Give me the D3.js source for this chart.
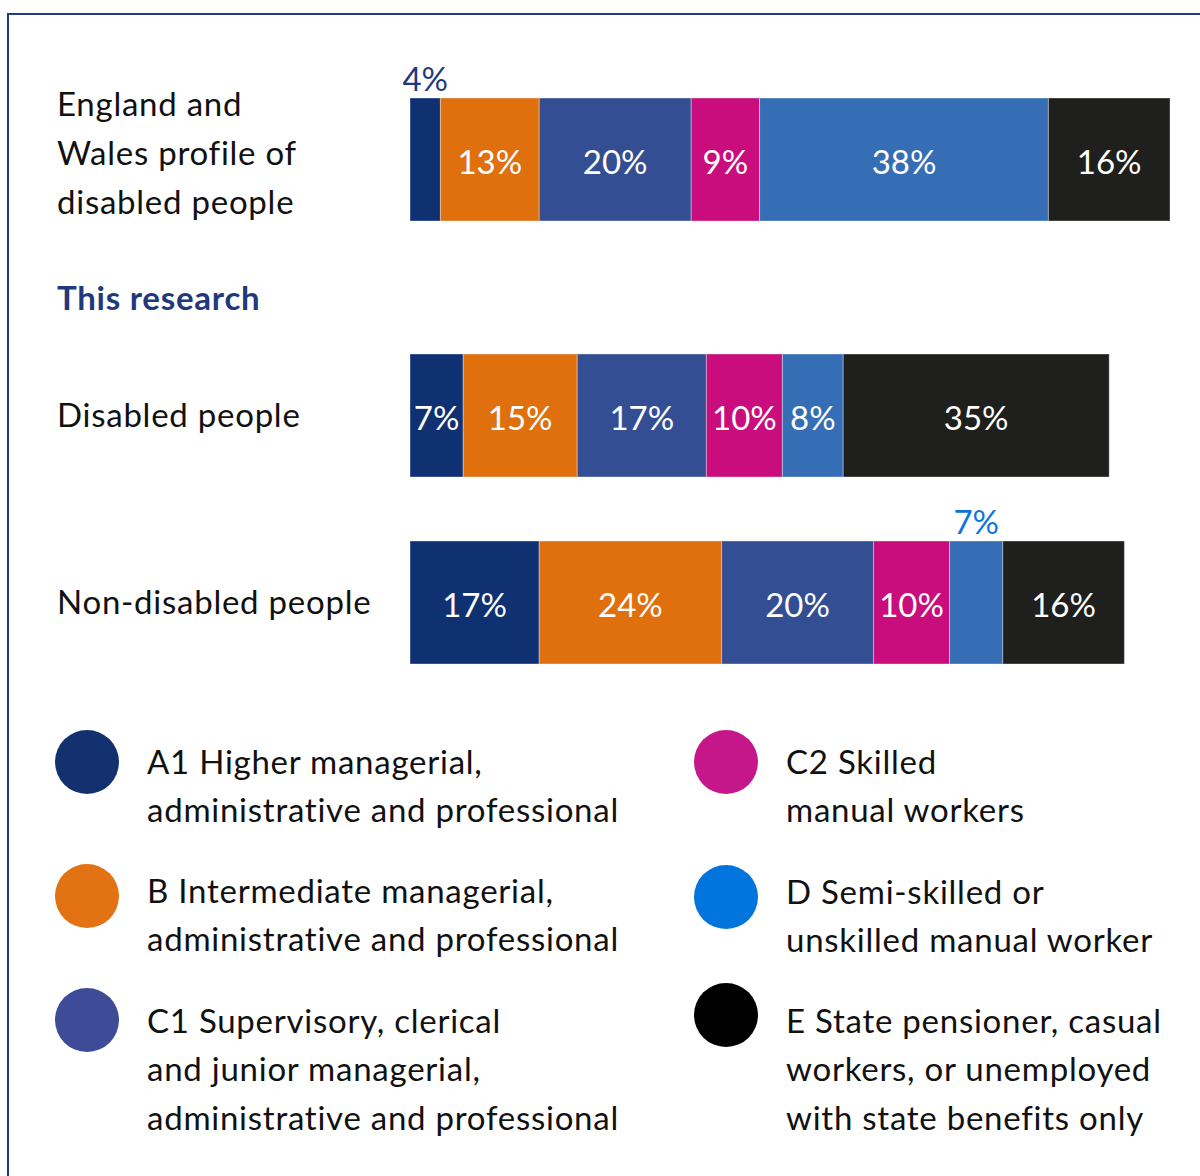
<!DOCTYPE html>
<html>
<head>
<meta charset="utf-8">
<script src="https://cdn.jsdelivr.net/npm/d3@7"></script>
<style>
  html, body { margin: 0; padding: 0; background: #fff; }
  svg { display: block; font-family: Lato, "Open Sans", sans-serif; font-variant-ligatures: none; }
</style>
</head>
<body>
<svg id="chart" width="1200" height="1176"></svg>
<script>
// Socio-economic grade profiles (percent of each group)
const grades = ["A1", "B", "C1", "C2", "D", "E"];
const rows = ["England and Wales profile of disabled people", "Disabled people", "Non-disabled people"];
const rowLabelLines = [
  ["England and", "Wales profile of", "disabled people"],
  ["Disabled people"],
  ["Non-disabled people"]
];
const englandWales = [4, 13, 20, 9, 38, 16];
const disabled = [7, 15, 17, 10, 8, 35];
const nonDisabled = [17, 24, 20, 10, 7, 16];
const rowValues = [englandWales, disabled, nonDisabled];

// Segments too narrow for an inside label: [row index, grade]
const outsideLabels = [[0, "A1"], [2, "D"]];

const barColors = ["#0f3172", "#e0700e", "#344e94", "#c90d7d", "#356eb4", "#1f1f1d"];
const legendColors = ["#14316f", "#e27213", "#3e4b96", "#c5168a", "#0274de", "#000000"];
const outsideLabelColors = { A1: "#1f3a7c", D: "#0a75dc" };

const legendLines = [
  ["A1 Higher managerial,", "administrative and professional"],
  ["B Intermediate managerial,", "administrative and professional"],
  ["C1 Supervisory, clerical", "and junior managerial,", "administrative and professional"],
  ["C2 Skilled", "manual workers"],
  ["D Semi-skilled or", "unskilled manual worker"],
  ["E State pensioner, casual", "workers, or unemployed", "with state benefits only"]
];

const svg = d3.select("#chart");

// Frame (top and left edges visible)
svg.append("path")
  .attr("d", "M8,1176 V14 H1200")
  .attr("fill", "none")
  .attr("stroke", "#1f3c84")
  .attr("stroke-width", 2);

const x = d3.scaleLinear().domain([0, 100]).range([410, 1170]);
const rowTop = d3.scaleOrdinal().domain(rows).range([98, 354, 541]);
const barH = 123;
const color = d3.scaleOrdinal().domain(grades).range(barColors);

const fontSize = 33;
const spacing = 0.75;
const lineH = 49;

// Row labels
rows.forEach((r, i) => {
  const lines = rowLabelLines[i];
  const cy = rowTop(r) + barH / 2 - (i === 0 ? 6 : 0);
  const t = svg.append("text")
    .attr("font-size", fontSize)
    .attr("letter-spacing", spacing)
    .attr("fill", "#111");
  lines.forEach((ln, j) => {
    t.append("tspan")
      .attr("x", 57)
      .attr("y", cy + (j - (lines.length - 1) / 2) * lineH)
      .attr("dy", "0.35em")
      .text(ln);
  });
});

// Section heading
svg.append("text")
  .attr("x", 57)
  .attr("y", 298)
  .attr("dy", "0.35em")
  .attr("font-size", fontSize)
  .attr("letter-spacing", spacing)
  .attr("font-weight", 700)
  .attr("fill", "#1f3a7c")
  .text("This research");

// Stacked bars
rows.forEach((r, i) => {
  const vals = rowValues[i];
  const cum = d3.cumsum(vals);
  const segs = grades.map((g, k) => ({ g, v: vals[k], x0: cum[k] - vals[k], x1: cum[k] }));
  const gRow = svg.append("g");
  gRow.selectAll("rect").data(segs).join("rect")
    .attr("x", d => x(d.x0))
    .attr("y", rowTop(r))
    .attr("width", d => x(d.x1) - x(d.x0))
    .attr("height", barH)
    .attr("fill", d => color(d.g))
    .attr("stroke", "rgba(255,255,255,0.35)")
    .attr("stroke-width", 1);

  gRow.selectAll("text").data(segs).join("text")
    .attr("x", d => (x(d.x0) + x(d.x1)) / 2)
    .attr("text-anchor", "middle")
    .attr("font-size", fontSize)
    .each(function (d) {
      const out = outsideLabels.some(o => o[0] === i && o[1] === d.g);
      d3.select(this)
        .attr("y", out ? rowTop(r) - 19 : rowTop(r) + barH / 2 + 3)
        .attr("dy", "0.35em")
        .attr("fill", out ? outsideLabelColors[d.g] : "#fff");
    })
    .text(d => d.v + "%");
});

// Legend
const legendPos = [
  [87, 762], [87, 896], [87, 1020],
  [726, 762], [726, 897], [726, 1015]
];
const legendTextY = [762, 891, 1021, 762, 892, 1021];
grades.forEach((g, k) => {
  const [cx, cy] = legendPos[k];
  svg.append("circle")
    .attr("cx", cx).attr("cy", cy).attr("r", 32)
    .attr("fill", legendColors[k]);
  const t = svg.append("text")
    .attr("font-size", fontSize)
    .attr("letter-spacing", spacing)
    .attr("fill", "#111");
  legendLines[k].forEach((ln, j) => {
    t.append("tspan")
      .attr("x", cx + 60)
      .attr("y", legendTextY[k] + j * 48.5)
      .attr("dy", "0.35em")
      .text(ln);
  });
});
</script>
</body>
</html>
